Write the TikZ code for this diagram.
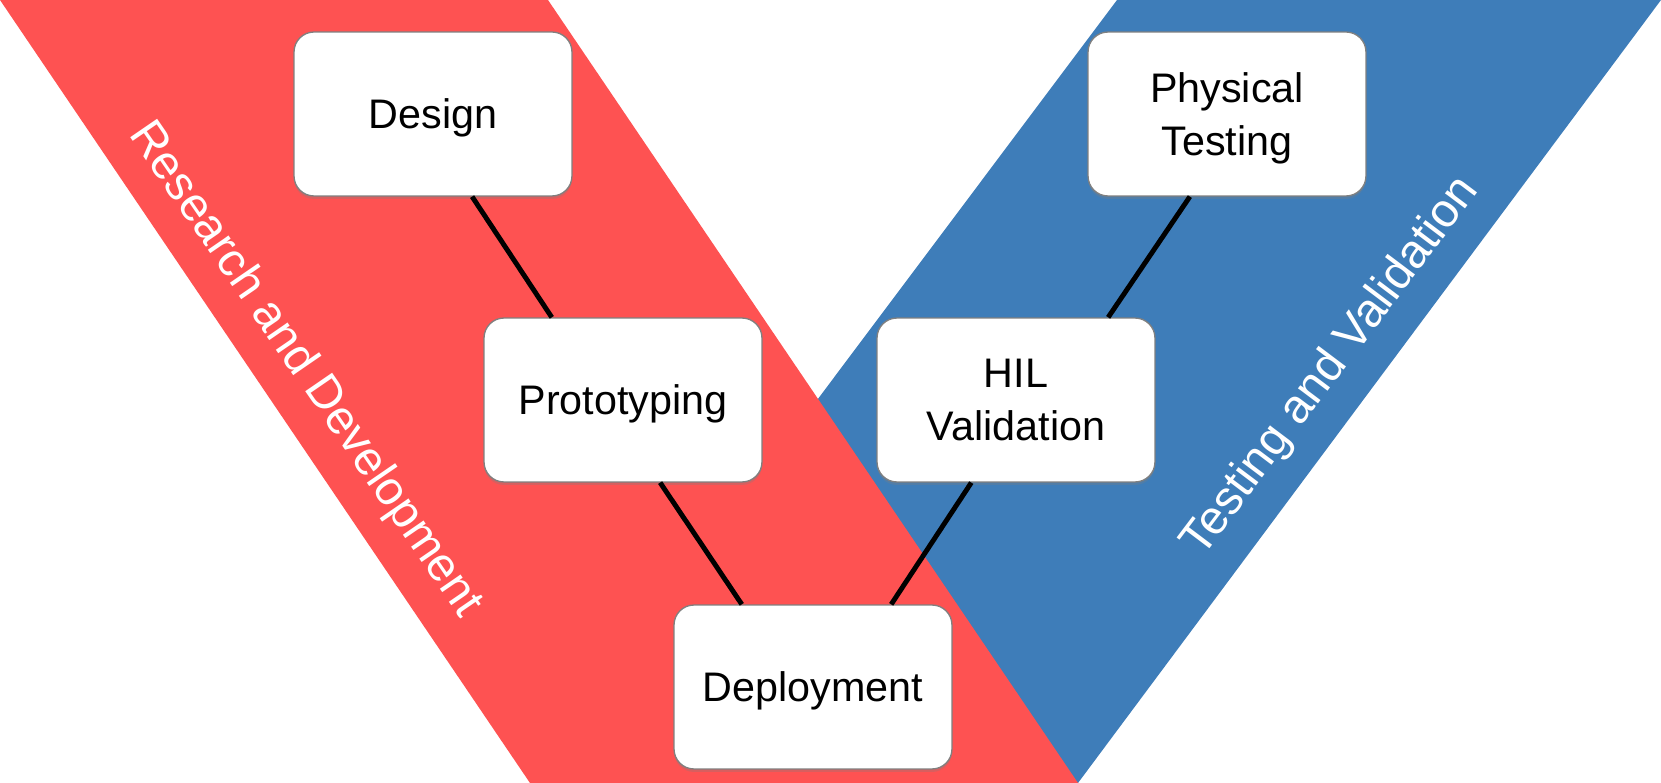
\documentclass[tikz,border=0pt]{standalone}
\usepackage{fontspec}
\setmainfont{Liberation Sans}
\usetikzlibrary{calc,shadows}
\definecolor{rdred}{RGB}{254,82,82}
\definecolor{tvblue}{RGB}{62,125,185}
\tikzset{
	stage/.style={draw=gray, line width=0.75pt, fill=white, rounded corners=0.4cm,
		minimum width=5.56cm, minimum height=3.28cm, align=center, text depth=0pt,
		font=\fontsize{23.5}{30}\selectfont,
		drop shadow={opacity=.3, shadow xshift=0pt, shadow yshift=-.06cm}},
	link/.style={line width=2.8pt},
	band label/.style={text=white, font=\fontsize{27}{32}\selectfont}
}

\begin{document}
\begin{tikzpicture}[x=0.02cm,y=-0.02cm]
			\useasboundingbox (0,0) rectangle (1661,783);
			\coordinate (rtl) at (0,0);
			\coordinate (rtr) at (548,0);
			\coordinate (btl) at (1117,0);
			\coordinate (btr) at (1661,0);
			\coordinate (tipl) at (530,783);
			\coordinate (tipr) at (1078,783);
			
			\fill [tvblue] (btl) -- (btr) -- (tipr) -- (tipl) -- cycle;
			\fill [rdred] (rtl) -- (rtr) -- (tipr) -- (tipl) -- cycle;
			
			\node [band label, rotate=-55.5] (rdlabel) at (305,370) {Research and Development};
			\node [band label, rotate=53] (tvlabel) at (1331,367) {Testing and Validation};
			
			\node [stage] (design) at (433,114) {Design};
			\node [stage] (proto) at (623,400) {Prototyping};
			\node [stage] (deploy) at (813,687) {Deployment};
			\node [stage] (hil) at (1016,400) {HIL\\Validation};
			\node [stage] (phys) at (1227,114) {Physical\\Testing};
			
			\draw [link] ($(design.south west)!.64!(design.south east)$) -- ($(proto.north west)!.245!(proto.north east)$);
			\draw [link] ($(proto.south west)!.633!(proto.south east)$) -- ($(deploy.north west)!.245!(deploy.north east)$);
			\draw [link] ($(phys.south west)!.367!(phys.south east)$) -- ($(hil.north west)!.83!(hil.north east)$);
			\draw [link] ($(hil.south west)!.34!(hil.south east)$) -- ($(deploy.north west)!.78!(deploy.north east)$);
		\end{tikzpicture}
\end{document}
